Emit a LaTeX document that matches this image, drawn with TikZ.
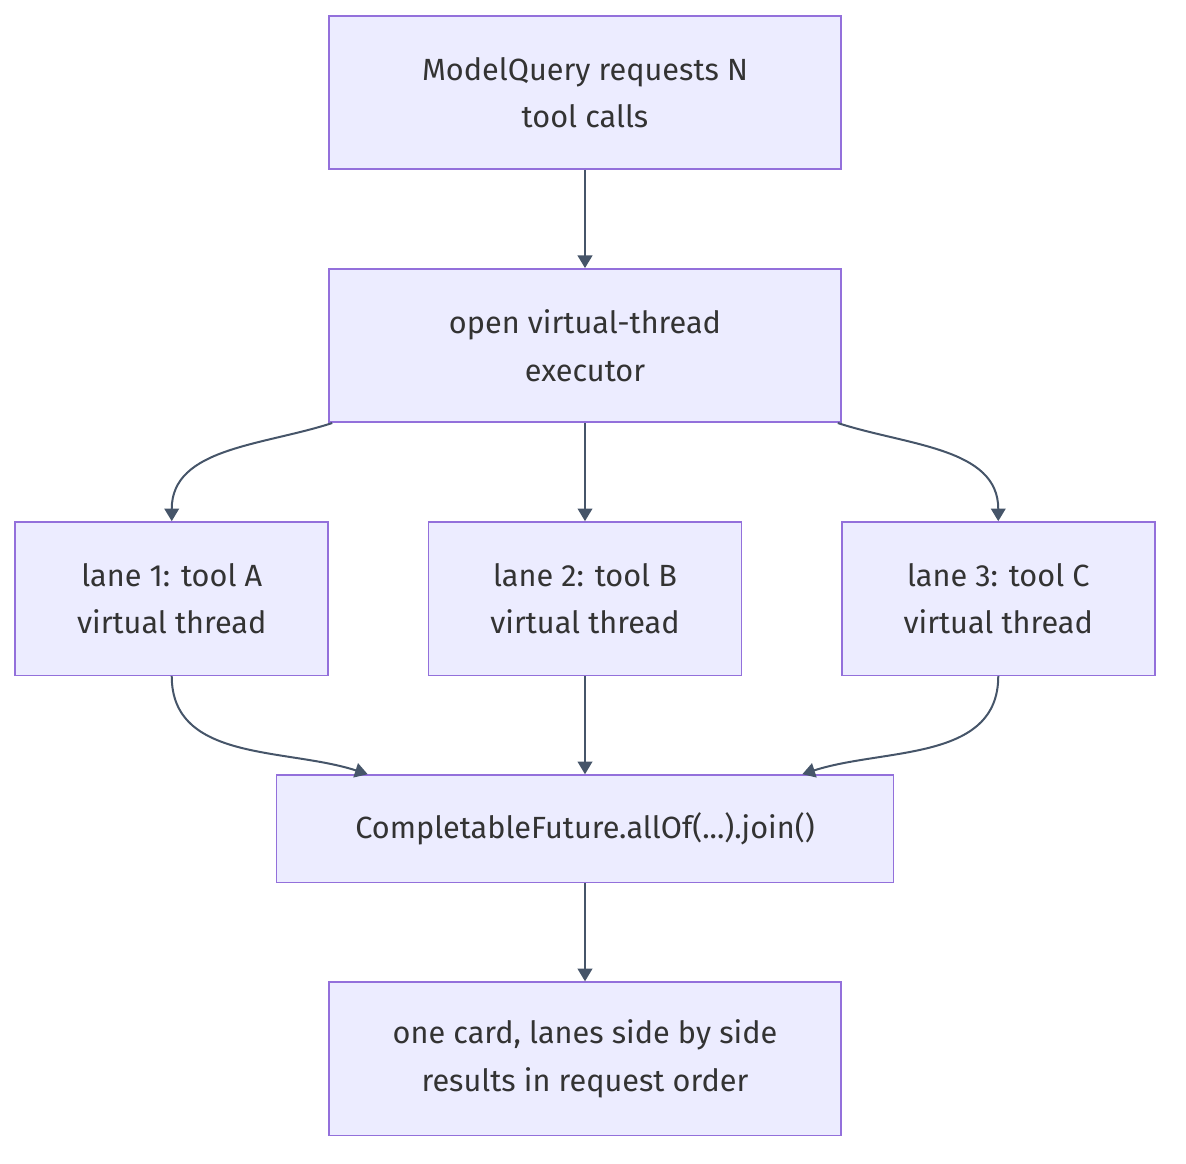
\documentclass[tikz,border=0pt]{standalone}
\usepackage{fontspec}
\setmainfont{Fira Sans}
\usepackage{tikz}
\usetikzlibrary{arrows.meta,positioning}
\definecolor{Lav}{HTML}{ECECFF}
\definecolor{Edge}{HTML}{9370DB}
\definecolor{Slate}{HTML}{465569}
\definecolor{Ink}{HTML}{333333}
\begin{document}
\begin{tikzpicture}[x=0.75pt,y=-0.75pt,node distance=73.6pt,
    b/.style={draw=Edge,fill=Lav,line width=1.2pt,text=Ink,align=center,minimum height=115pt,inner sep=0pt,font=\fontsize{23}{35.5}\selectfont},
    a/.style={-{Triangle[length=9.5pt,width=11pt]},line width=1.5pt,draw=Slate}]
    \useasboundingbox (0,0) rectangle (1186,1164);
    \node[b,minimum width=384pt] (q) at (585,92.5) {ModelQuery requests N\\tool calls};
    \node[b,minimum width=384pt,below=of q] (ex) {open virtual-thread\\executor};
    \node[b,minimum width=234.75pt,below=of ex] (l2) {lane 2: tool B\\virtual thread};
    \node[b,minimum width=234.75pt,left=74pt of l2] (l1) {lane 1: tool A\\virtual thread};
    \node[b,minimum width=234.75pt,right=74pt of l2] (l3) {lane 3: tool C\\virtual thread};
    \node[b,minimum width=462.75pt,minimum height=80.5pt,below=of l2] (jn) {CompletableFuture.allOf(...).join()};
    \node[b,minimum width=384pt,below=of jn] (res) {one card, lanes side by side\\results in request order};
    \draw[a] (q)--(ex);
    \draw[a] ([xshift=3pt]ex.south west) to[out=-162,in=90] (l1.north);
    \draw[a] (ex)--(l2);
    \draw[a] ([xshift=-3pt]ex.south east) to[out=-18,in=90] (l3.north);
    \draw[a] (l1.south) to[out=-90,in=162] ([xshift=69pt]jn.north west);
    \draw[a] (l2)--(jn);
    \draw[a] (l3.south) to[out=-90,in=18] ([xshift=-69pt]jn.north east);
    \draw[a] (jn)--(res);
  \end{tikzpicture}
\end{document}
